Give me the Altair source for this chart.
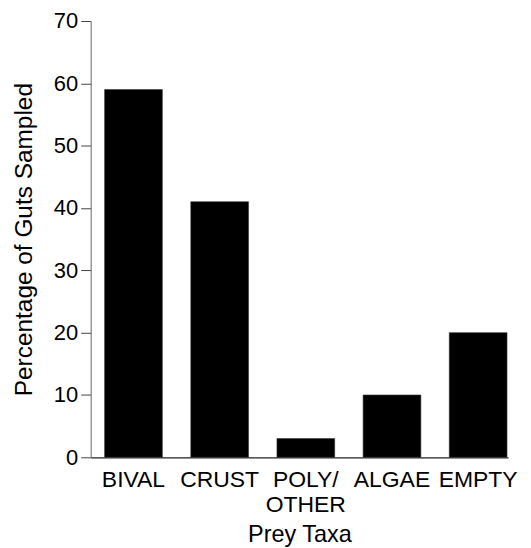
import altair as alt
import pandas as pd

categories = ["BIVAL", "CRUST", "POLY/OTHER", "ALGAE", "EMPTY"]
values = [59, 41, 3, 10, 20]

df = pd.DataFrame({"taxa": categories, "pct": values})

font = "Liberation Sans"

chart = alt.Chart(df).mark_bar(color="black", stroke="#333", strokeWidth=0.6).encode(
    x=alt.X(
        "taxa:N",
        sort=categories,
        scale=alt.Scale(paddingInner=0.33, paddingOuter=0.087, align=0.93),
        axis=alt.Axis(
            title="Prey Taxa",
            labelAngle=0,
            ticks=False,
            labelPadding=11,
            labelFontSize=23,
            labelFont=font,
            labelColor="black",
            labelLimit=200,
            labelLineHeight=25,
            labelExpr="datum.value == 'POLY/OTHER' ? ['POLY/', 'OTHER'] : datum.label",
            titleFontSize=23.5,
            titleFont=font,
            titleFontWeight="normal",
            titleColor="black",
            titlePadding=7,
            domainColor="#222",
            domainWidth=1.2,
        ),
    ),
    y=alt.Y(
        "pct:Q",
        scale=alt.Scale(domain=[0, 70], nice=False),
        axis=alt.Axis(
            title="Percentage of Guts Sampled",
            values=[0, 10, 20, 30, 40, 50, 60, 70],
            grid=False,
            tickSize=10,
            tickColor="#444",
            domainColor="#666",
            labelFontSize=22,
            labelFont=font,
            labelColor="black",
            labelPadding=3,
            titleFontSize=24.5,
            titleFont=font,
            titleFontWeight="normal",
            titleColor="black",
            titlePadding=17,
        ),
    ),
).properties(
    width=419,
    height=438,
    autosize=alt.AutoSizeParams(type="none"),
    padding={"left": 83, "top": 12, "right": 15, "bottom": 92},
).configure_view(stroke=None)

chart.save("out.html", embed_options={"renderer": "svg", "actions": False})
